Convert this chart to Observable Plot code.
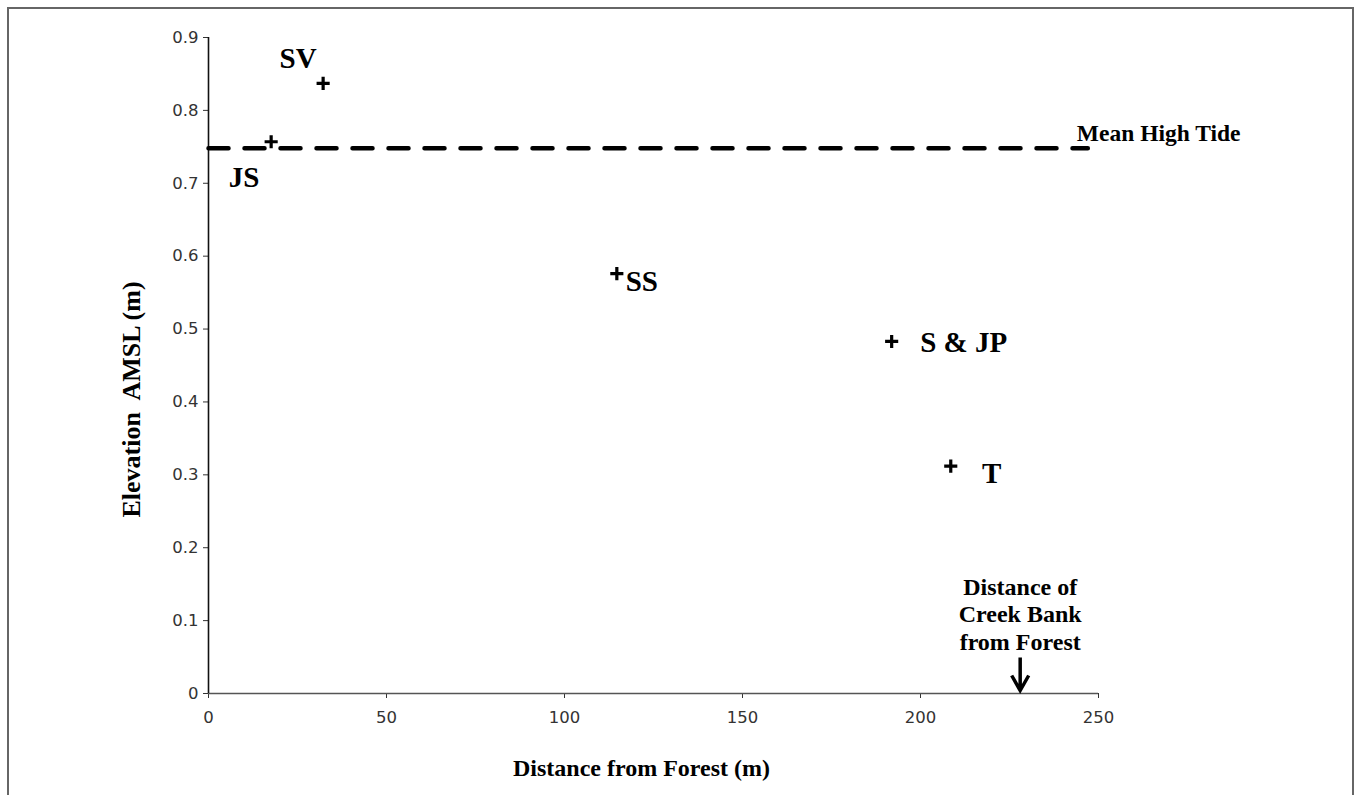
<!DOCTYPE html>
<html><head><meta charset="utf-8">
<script src="https://cdn.jsdelivr.net/npm/d3@7"></script>
<script src="https://cdn.jsdelivr.net/npm/@observablehq/plot@0.6"></script>
<style>
body{margin:0;background:#fff;}
#wrap{position:relative;width:1356px;height:795px;overflow:hidden;}
#border{position:absolute;left:7px;top:7px;width:1347px;height:800px;border:2px solid #666;box-sizing:border-box;pointer-events:none;}
#chart svg g[aria-label$="tick label"], #chart svg g[aria-label$="tick label"] text{font-size:16.5px !important;font-family:'DejaVu Sans', Verdana, sans-serif !important;}
</style></head><body><div id="wrap"><div id="chart"></div><div id="border"></div></div>
<script>
// ---- data ----
const sites = ["SV", "JS", "SS", "S & JP", "T"];
const distance = [32.2, 17.6, 114.7, 191.9, 208.5];   // m from forest
const elevation = [0.837, 0.757, 0.576, 0.483, 0.312]; // m AMSL
const meanHighTide = 0.748;
const tideExtent = [0, 247];
const creekBankDistance = 228;
const xTicks = [0, 50, 100, 150, 200, 250];
const yTicks = [0, 0.1, 0.2, 0.3, 0.4, 0.5, 0.6, 0.7, 0.8, 0.9];
const xTitle = "Distance from Forest (m)";
const yTitle = "Elevation  AMSL (m)";
const tideLabel = "Mean High Tide";
const creekLabel = "Distance of\nCreek Bank\nfrom Forest";

// ---- layout (label offsets in px) ----
const labelDx = [-25, -27, 25, 72, 41];
const labelDy = [-25, 36, 8, 1, 8];

const points = sites.map((s, i) => ({site: s, x: distance[i], y: elevation[i]}));
const serif = "'Liberation Serif', 'Times New Roman', serif";
const sans = "'DejaVu Sans', Verdana, sans-serif";

// downward arrow glyph (pixel space, tip at origin)
const downArrow = {
  draw(ctx) {
    ctx.moveTo(0, -36);
    ctx.lineTo(0, -3);
    ctx.moveTo(-8.5, -18);
    ctx.lineTo(0, -3);
    ctx.lineTo(8.5, -18);
  }
};

const chart = Plot.plot({
  width: 1356,
  height: 795,
  marginLeft: 208,
  marginRight: 258,
  marginTop: 37,
  marginBottom: 102,
  style: {background: "transparent", fontSize: "16.5px", fontFamily: sans},
  x: {domain: [0, 250]},
  y: {domain: [0, 0.9]},
  marks: [
    Plot.axisX({ticks: xTicks, tickSize: 5, tickPadding: 13, fontSize: 16.5, fontFamily: sans, color: "#333", label: null, tickFormat: d => String(d)}),
    Plot.axisY({ticks: yTicks, tickSize: 5, tickPadding: 5, fontSize: 16.5, fontFamily: sans, color: "#333", label: null, tickFormat: d => d === 0 ? "0" : d.toFixed(1)}),
    Plot.ruleY([0], {stroke: "#555", strokeWidth: 1.5}),
    Plot.ruleX([0], {stroke: "#111", strokeWidth: 1.6}),
    Plot.line(tideExtent.map(x => ({x, y: meanHighTide})), {x: "x", y: "y", stroke: "black", strokeWidth: 4.5, strokeDasharray: "20,16"}),
    Plot.dot(points, {x: "x", y: "y", symbol: "plus", r: 4.3, stroke: "black", strokeWidth: 3.2}),
    ...points.map((p, i) => Plot.text([p], {x: "x", y: "y", text: "site", dx: labelDx[i], dy: labelDy[i], fontSize: 29, fontWeight: "bold", fontFamily: serif, fill: "black"})),
    Plot.text([meanHighTide], {y: d => d, x: () => tideExtent[1], text: () => tideLabel, textAnchor: "start", dx: -11, dy: -15, fontSize: 23.5, fontWeight: "bold", fontFamily: serif, fill: "black"}),
    Plot.dot([creekBankDistance], {x: d => d, y: () => 0, symbol: downArrow, r: 5, stroke: "black", strokeWidth: 3.5, fill: "none"}),
    Plot.text([creekBankDistance], {x: d => d, frameAnchor: "bottom", text: () => creekLabel, lineAnchor: "middle", dy: -80, lineHeight: 1.15, fontSize: 24, fontWeight: "bold", fontFamily: serif, fill: "black"}),
    Plot.text([xTitle], {text: d => d, frameAnchor: "bottom", lineAnchor: "middle", dx: -12, dy: 75, fontSize: 24, fontWeight: "bold", fontFamily: serif, fill: "black"}),
    Plot.text([yTitle], {text: d => d, frameAnchor: "left", textAnchor: "middle", lineAnchor: "middle", rotate: -90, dx: -77, dy: 34, fontSize: 26, fontWeight: "bold", fontFamily: serif, fill: "black"})
  ]
});
document.getElementById("chart").appendChild(chart);
</script></body></html>
